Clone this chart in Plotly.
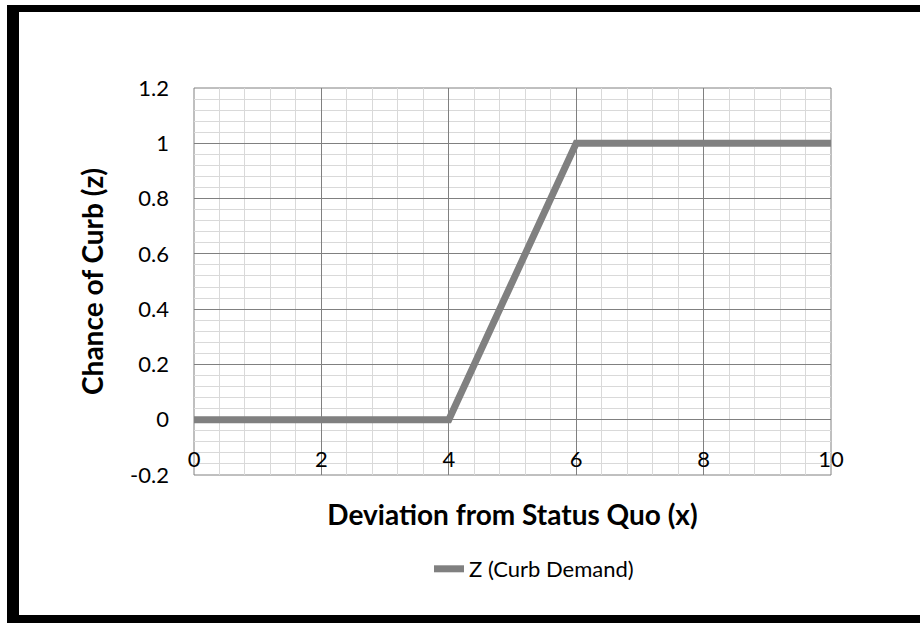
import plotly.graph_objects as go

# ---- data ----
x_vals = [0, 4, 6, 10]
z_vals = [0, 0, 1, 1]
series_name = "Z (Curb Demand)"
x_title = "Deviation from Status Quo (x)"
y_title = "Chance of Curb (z)"
y_tick_vals = [-0.2, 0, 0.2, 0.4, 0.6, 0.8, 1, 1.2]
y_tick_text = ["-0.2", "0", "0.2", "0.4", "0.6", "0.8", "1", "1.2"]
x_tick_vals = [0, 2, 4, 6, 8, 10]
x_tick_text = ["0", "2", "4", "6", "8", "10"]

W, H = 920, 623
L, R, T, B = 194, 89, 88, 148
PW, PH = W - L - R, H - T - B


def px_x(p):
    return (p - L) / PW


def px_y(p):
    return (H - B - p) / PH


FONT = "Lato, 'Open Sans', sans-serif"
MAJOR = "#808080"
MINOR = "#d9d9d9"

fig = go.Figure()
fig.add_trace(go.Scatter(
    x=x_vals, y=z_vals, mode="lines", name=series_name,
    line=dict(color="#808080", width=7),
))

fig.update_layout(
    width=W, height=H,
    margin=dict(l=L, r=R, t=T, b=B, autoexpand=False),
    paper_bgcolor="white", plot_bgcolor="white",
    font=dict(family=FONT, color="black", size=22),
    showlegend=True,
    legend=dict(orientation="h", x=px_x(534), y=px_y(569),
                xanchor="center", yanchor="middle",
                font=dict(size=22, family=FONT), bgcolor="rgba(0,0,0,0)"),
    xaxis=dict(
        range=[0, 10], tickvals=x_tick_vals, ticktext=x_tick_text,
        showgrid=True, gridcolor=MAJOR, gridwidth=1,
        minor=dict(dtick=0.4, showgrid=True, gridcolor=MINOR, gridwidth=1),
        zeroline=False, showline=False, ticks="",
        anchor="free", position=px_y(444),
        tickfont=dict(size=22, family=FONT),
        title=dict(text="<b>" + x_title + "</b>",
                   font=dict(size=28, family=FONT), standoff=34),
    ),
    yaxis=dict(
        range=[-0.2, 1.2], tickvals=y_tick_vals, ticktext=y_tick_text,
        showgrid=True, gridcolor=MAJOR, gridwidth=1,
        minor=dict(dtick=0.04, showgrid=True, gridcolor=MINOR, gridwidth=1),
        zeroline=False, showline=False, ticks="",
        ticklabelstandoff=24,
        tickfont=dict(size=22, family=FONT),
        title=dict(text="<b>" + y_title + "</b>",
                   font=dict(size=28, family=FONT), standoff=18),
    ),
)

# plot frame
fig.add_shape(type="rect", xref="paper", yref="paper", x0=0, x1=1, y0=0, y1=1,
              line=dict(color=MAJOR, width=1), layer="below")

# outer black border (left, top, bottom bars; right side cut off)
for (a, b, c, d) in [(7, 19, 5, 623), (7, 930, 5, 12), (7, 930, 615, 623)]:
    fig.add_shape(type="rect", xref="paper", yref="paper",
                  x0=px_x(a), x1=px_x(b), y0=px_y(d), y1=px_y(c),
                  fillcolor="black", line=dict(width=0))

fig.write_html(
    "out.html",
    config={"displayModeBar": False},
    post_script="document.body.style.margin='0';document.body.style.overflow='hidden';",
)
